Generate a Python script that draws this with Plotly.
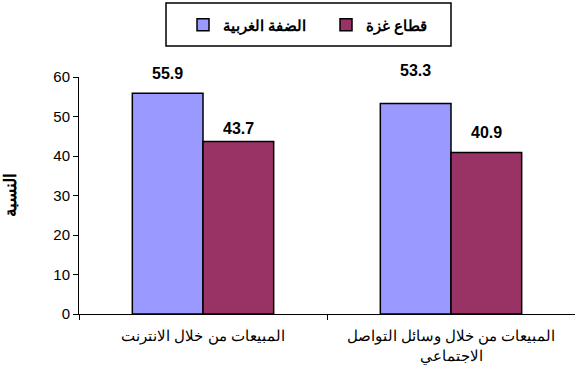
import plotly.graph_objects as go

categories = ["المبيعات من خلال الانترنت", "المبيعات من خلال وسائل التواصل<br>الاجتماعي"]
west_bank = [55.9, 53.3]
gaza = [43.7, 40.9]
series_names = ["الضفة الغربية", "قطاع غزة"]
y_title = "النسبة"

# label placement (pixels above bar top) as in the original chart
wb_label_shift = [20, 33]
gz_label_shift = [13, 20]

BARGAP = 0.43
half = (1 - BARGAP) / 4  # centre offset of each bar in a 2-bar group

fig = go.Figure()
fig.add_trace(go.Bar(
    x=categories, y=west_bank, name=f"<b>{series_names[0]}</b>",
    marker=dict(color="#9999FF", line=dict(color="black", width=1.5)),
))
fig.add_trace(go.Bar(
    x=categories, y=gaza, name=f"<b>{series_names[1]}</b>",
    marker=dict(color="#993366", line=dict(color="black", width=1.5)),
))

annotations = []
for i, (v, s) in enumerate(zip(west_bank, wb_label_shift)):
    annotations.append(dict(x=i - half, y=v, xref="x", yref="y", text=f"<b>{v:.1f}</b>",
                            showarrow=False, yanchor="middle", yshift=s,
                            font=dict(size=16, color="black")))
for i, (v, s) in enumerate(zip(gaza, gz_label_shift)):
    annotations.append(dict(x=i + half, y=v, xref="x", yref="y", text=f"<b>{v:.1f}</b>",
                            showarrow=False, yanchor="middle", yshift=s,
                            font=dict(size=16, color="black")))

fig.update_layout(
    width=575, height=388,
    margin=dict(l=79, r=0, t=77, b=74),
    paper_bgcolor="white", plot_bgcolor="white",
    barmode="group", bargap=BARGAP, bargroupgap=0,
    font=dict(family="Liberation Sans, Arial", size=13, color="black"),
    showlegend=True,
    legend=dict(
        orientation="h", x=0.2097, y=1.219, xanchor="left", yanchor="middle",
        borderwidth=0, bgcolor="rgba(0,0,0,0)",
        font=dict(size=15, color="black"),
        entrywidth=98, entrywidthmode="pixels",
        traceorder="normal",
    ),
    annotations=annotations,
    shapes=[dict(type="rect", xref="paper", yref="paper",
                 x0=0.1754, x1=0.75, y0=1.1308, y1=1.3122,
                 line=dict(color="black", width=1.5), fillcolor="rgba(0,0,0,0)", layer="below")],
)

fig.update_xaxes(
    showline=True, linecolor="black", linewidth=1,
    ticks="outside", tickson="boundaries", ticklen=5, tickcolor="black",
    showgrid=False, tickfont=dict(size=15), ticklabelstandoff=8,
)
fig.update_yaxes(
    range=[0, 60], dtick=10, showline=True, linecolor="black", linewidth=1,
    ticks="outside", ticklen=5, tickcolor="black", showgrid=False, zeroline=False,
    tickfont=dict(size=15),
    title=dict(text=f"<b>{y_title}</b>", font=dict(size=17), standoff=32),
)

fig.write_html("out.html")
